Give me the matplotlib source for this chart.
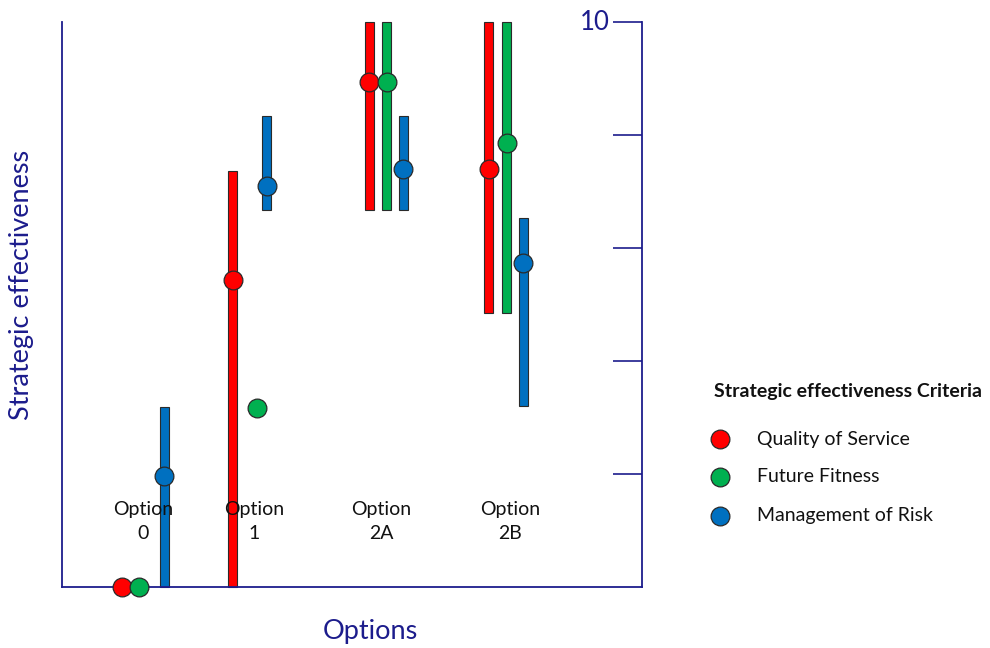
import matplotlib
matplotlib.use("Agg")
import matplotlib.pyplot as plt
from matplotlib.lines import Line2D

plt.rcParams['font.family'] = ['Lato', 'DejaVu Sans']

NAVY = "#1c1c8c"
EDGE = "#2a2a2a"
W, H = 990, 648

options = ["Option\n0", "Option\n1", "Option\n2A", "Option\n2B"]
option_x = [14.0, 33.1, 55.0, 77.2]

series_names = ["Quality of Service", "Future Fitness", "Management of Risk"]
series_colors = ["#FF0000", "#00B050", "#0070C0"]

# horizontal placement of each criterion within the option groups
quality_x = [10.3, 29.4, 53.0, 73.6]
fitness_x = [13.3, 33.6, 56.0, 76.7]
risk_x = [17.6, 35.3, 58.8, 79.5]

# central scores
quality_score = [0.0, 5.43, 8.93, 7.40]
fitness_score = [0.0, 3.17, 8.93, 7.86]
risk_score = [1.96, 7.10, 7.40, 5.74]

# score ranges (None where no range is shown)
quality_low = [None, 0.0, 6.67, 4.85]
quality_high = [None, 7.37, 10.0, 10.0]
fitness_low = [None, None, 6.67, 4.85]
fitness_high = [None, None, 10.0, 10.0]
risk_low = [0.0, 6.67, 6.67, 3.20]
risk_high = [3.18, 8.33, 8.33, 6.53]

y_ticks = [2, 4, 6, 8, 10]

fig = plt.figure(figsize=(9.9, 6.48), dpi=100)
ax = fig.add_axes([62 / W, 61 / H, 580 / W, 565 / H])
ax.set_xlim(0, 100)
ax.set_ylim(0, 10)

series = [
    (quality_x, quality_score, quality_low, quality_high),
    (fitness_x, fitness_score, fitness_low, fitness_high),
    (risk_x, risk_score, risk_low, risk_high),
]

for (xs, scores, lows, highs), color in zip(series, series_colors):
    for x, lo, hi in zip(xs, lows, highs):
        if lo is None:
            continue
        ax.bar(x, hi - lo, bottom=lo, width=1.55, color=color,
               edgecolor=EDGE, linewidth=0.8, zorder=2, clip_on=False)
for (xs, scores, lows, highs), color in zip(series, series_colors):
    ax.plot(xs, scores, linestyle="none", marker="o", markersize=13.5,
            markerfacecolor=color, markeredgecolor=EDGE,
            markeredgewidth=0.9, zorder=4, clip_on=False)

for x, label in zip(option_x, options):
    ax.text(x, 1.16, label, ha="center", va="center", fontsize=14,
            color="#111111", linespacing=1.55, zorder=3)

# axes frame: left, right and bottom lines only
ax.spines["top"].set_visible(False)
for side in ("left", "right", "bottom"):
    ax.spines[side].set_color(NAVY)
    ax.spines[side].set_linewidth(1.3)

ax.set_xticks([])
ax.yaxis.set_ticks_position("right")
ax.set_yticks(y_ticks)
ax.tick_params(axis="y", direction="in", length=21, width=1.2,
               color=NAVY, labelright=False, labelleft=False)
ax.annotate("10", xy=(1, 10), xycoords=ax.get_yaxis_transform(),
            xytext=(-23, 0), textcoords="offset points",
            ha="right", va="center", fontsize=18.5, color=NAVY,
            annotation_clip=False)

fig.text(22 / W, 1 - 285 / H, "Strategic effectiveness", rotation=90,
         ha="center", va="center", fontsize=19.5, color=NAVY)
fig.text(370 / W, 1 - 631 / H, "Options", ha="center", va="center",
         fontsize=19.5, color=NAVY)

# criteria key
fig.text(714 / W, 1 - 391 / H, "Strategic effectiveness Criteria",
         ha="left", va="center", fontsize=14, fontweight="bold",
         color="#111111")
key_rows = [439, 477, 516]
for row, name, color in zip(key_rows, series_names, series_colors):
    fig.add_artist(Line2D([720 / W], [1 - row / H], transform=fig.transFigure,
                          linestyle="none", marker="o", markersize=13.5,
                          markerfacecolor=color, markeredgecolor=EDGE,
                          markeredgewidth=0.9))
    fig.text(757 / W, 1 - row / H, name, ha="left", va="center",
             fontsize=14, color="#111111")

fig.savefig("out.png", dpi=100)
